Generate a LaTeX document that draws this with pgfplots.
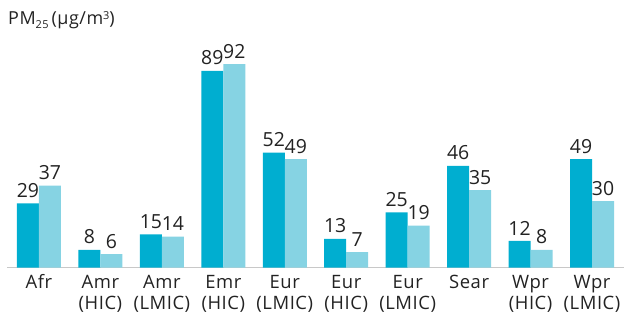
\documentclass[border=0pt]{standalone}
\usepackage{pgfplots}
\pgfplotsset{compat=1.18}
\usepackage{fontspec}
\setmainfont{Open Sans}
\newfontfamily\labfont[LetterSpace=3]{Open Sans}
\definecolor{darkbar}{HTML}{00AED0}
\definecolor{lightbar}{HTML}{86D3E3}
\definecolor{txt}{HTML}{222222}
\definecolor{axisgray}{HTML}{C8C8C8}
\begin{document}
\begin{tikzpicture}
\begin{axis}[
  name=ax,
  scale only axis,
  width=617bp, height=221bp,
  xmin=-0.52, xmax=9.52,
  ymin=0, ymax=100,
  ybar=0pt, bar width=22bp,
  axis x line*=bottom,
  axis y line=none,
  x axis line style={draw=axisgray, line width=1.3bp, -},
  xtick={0,...,9},
  xticklabels={Afr,{Amr\\(HIC)},{Amr\\(LMIC)},{Emr\\(HIC)},{Eur\\(LMIC)},{Eur\\(HIC)},{Eur\\(LMIC)},Sear,{Wpr\\(HIC)},{Wpr\\(LMIC)}},
  typeset ticklabels with strut,
  xticklabel style={align=center, font=\labfont\fontsize{18.5}{22}\selectfont, text=txt, inner sep=0pt, anchor=north, yshift=-5bp},
  major tick length=0pt,
  /pgf/number format/assume math mode=true,
  nodes near coords,
  every node near coord/.append style={font=\fontsize{19.5}{20}\selectfont, text=txt, inner sep=0pt, yshift=5.5bp},
  clip=false,
]
\addplot[fill=darkbar, draw=none] coordinates {(0,29) (1,8) (2,15) (3,89) (4,52) (5,13) (6,25) (7,46) (8,12) (9,49)};
\addplot[fill=lightbar, draw=none] coordinates {(0,37) (1,6) (2,14) (3,92) (4,49) (5,7) (6,19) (7,35) (8,8) (9,30)};
\end{axis}
\node[anchor=base west, inner sep=0pt, text=txt, font=\labfont\fontsize{18}{20}\selectfont] at ([xshift=1bp,yshift=242.5bp]ax.south west) {PM\raisebox{-0.4ex}{\fontsize{11}{11}\selectfont 25}\,(µg/m\raisebox{0.6ex}{\fontsize{11}{11}\selectfont 3})};
\pgfresetboundingbox
\path[use as bounding box] ([xshift=-7bp,yshift=-50.5bp]ax.south west) rectangle ([xshift=617bp,yshift=267.5bp]ax.south west);
\end{tikzpicture}
\end{document}
